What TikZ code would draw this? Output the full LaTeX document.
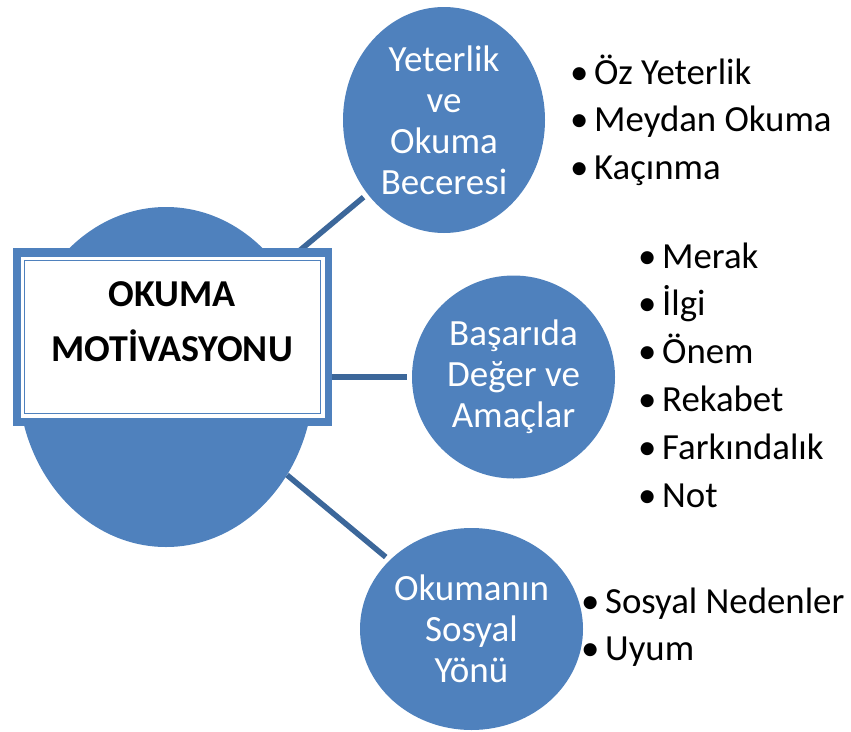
\documentclass[tikz,border=0pt]{standalone}
\usepackage{fontspec}
\setmainfont{Carlito}
\usetikzlibrary{shapes.geometric}
\definecolor{balonmavi}{RGB}{79,129,189}
\definecolor{hatmavi}{RGB}{60,103,154}
\newcommand{\imi}{\makebox[24pt][l]{•}}
\begin{document}
\begin{tikzpicture}[x=1pt,y=-1pt,
		balon/.style={ellipse,fill=balonmavi,inner sep=0pt,text=white,align=center,font=\fontsize{37}{41}\selectfont},
		baglanti/.style={hatmavi,line width=5.5pt,shorten >=5pt},
		maddeyazi/.style={anchor=base west,inner sep=0pt,font=\fontsize{36.8}{42}\selectfont}]
	\useasboundingbox (0,0) rectangle (851,731);
	% daireler
	\node[balon,minimum width=296pt,minimum height=340pt] (ana) at (166,377) {};
	\node[balon,minimum width=202pt,minimum height=226pt] (yeterlik) at (444,120) {Yeterlik\\ve\\Okuma\\Beceresi};
	\node[balon,minimum width=203pt,minimum height=203pt] (deger) at (513.5,377) {Başarıda\\Değer ve\\Amaçlar};
	\node[balon,minimum width=223pt,minimum height=202pt] (sosyal) at (471.5,629) {Okumanın\\Sosyal\\Yönü};
	% baglantilar
	\draw[baglanti] (ana.44) -- (yeterlik.224);
	\draw[baglanti] (ana.0) -- (deger.180);
	\draw[baglanti] (ana.-39) -- (sosyal.140);
	% cerceve
	\node[fill=balonmavi,minimum width=319pt,minimum height=178pt,inner sep=0pt] (cerceve) at (172.5,337) {};
	\node[fill=white,minimum width=304pt,minimum height=161pt,inner sep=0pt] (zemin) at (cerceve) {};
	\node[draw=balonmavi,line width=1.5pt,minimum width=296pt,minimum height=153pt,inner sep=0pt] (ic) at (cerceve) {};
	\node[font=\bfseries\fontsize{38}{55}\selectfont,align=center] (baslik) at (172,322) {OKUMA\\MOTİVASYONU};
	% maddeler
	\foreach \yazi [count=\i from 0] in {Öz Yeterlik,Meydan Okuma,Kaçınma}
		\node[maddeyazi] (ust\i) at (570,84+47.5*\i) {\imi\yazi};
	\foreach \yazi [count=\i from 0] in {Merak,İlgi,Önem,Rekabet,Farkındalık,Not}
		\node[maddeyazi] (orta\i) at (638,268+47.8*\i) {\imi\yazi};
	\foreach \yazi [count=\i from 0] in {Sosyal Nedenler,Uyum}
		\node[maddeyazi] (alt\i) at (581,613+47*\i) {\imi\yazi};
\end{tikzpicture}
\end{document}
